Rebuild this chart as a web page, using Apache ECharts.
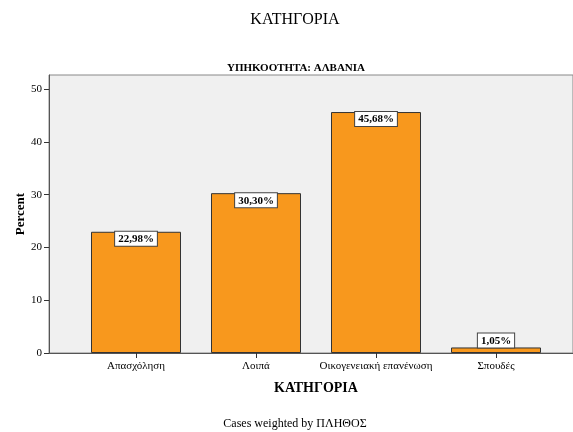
<!DOCTYPE html>
<html>
<head>
<meta charset="utf-8">
<script src="https://cdn.jsdelivr.net/npm/echarts@6/dist/echarts.min.js"></script>
<style>
  html, body { margin: 0; padding: 0; background: #fff; }
  #chart { width: 573px; height: 432px; }
</style>
</head>
<body>
<div id="chart"></div>
<script>
// data
var categories = ['Απασχόληση', 'Λοιπά', 'Οικογενειακή επανένωση', 'Σπουδές'];
var percents = [22.98, 30.30, 45.68, 1.05];
var yTicks = [0, 10, 20, 30, 40, 50];

var serif = '"Liberation Serif", "DejaVu Serif", serif';
var chart = echarts.init(document.getElementById('chart'));

// bars too short to hold the label get it on top instead
var barData = percents.map(function (v) {
  return v < 3 ? { value: v, label: { position: 'top', distance: 0 } } : v;
});

var option = {
  backgroundColor: '#fff',
  animation: false,
  title: [
    {
      text: 'ΚΑΤΗΓΟΡΙΑ',
      left: 290, top: 7, textAlign: 'center',
      textStyle: { fontFamily: serif, fontSize: 16, fontWeight: 'normal', color: '#000' }
    },
    {
      text: 'ΥΠΗΚΟΟΤΗΤΑ: ΑΛΒΑΝΙΑ',
      left: 291, top: 58, textAlign: 'center',
      textStyle: { fontFamily: serif, fontSize: 11, fontWeight: 'bold', color: '#000' }
    },
    {
      text: 'Cases weighted by ΠΛΗΘΟΣ',
      left: 290, top: 413, textAlign: 'center',
      textStyle: { fontFamily: serif, fontSize: 12, fontWeight: 'normal', color: '#000' }
    }
  ],
  grid: [
    // frame + y axis
    { left: 49, right: -3, top: 75, bottom: 79, show: true,
      backgroundColor: '#f0f0f0', borderColor: '#888', borderWidth: 1 },
    // bars
    { left: 76, right: 17, top: 75, bottom: 79 }
  ],
  xAxis: [
    {
      gridIndex: 0, type: 'value', min: 0, max: 1,
      axisLine: { show: true, lineStyle: { color: '#555', width: 1 } },
      axisTick: { show: false }, axisLabel: { show: false }, splitLine: { show: false }
    },
    {
      gridIndex: 1, type: 'category', data: categories,
      name: 'ΚΑΤΗΓΟΡΙΑ', nameLocation: 'middle', nameGap: 28,
      nameTextStyle: { fontFamily: serif, fontSize: 14, fontWeight: 'bold', color: '#000' },
      axisLine: { show: true, lineStyle: { color: '#555', width: 1 } },
      axisTick: { show: true, alignWithLabel: true, length: 5, lineStyle: { color: '#333' } },
      axisLabel: { fontFamily: serif, fontSize: 11, color: '#000', margin: 8, interval: 0 }
    }
  ],
  yAxis: [
    {
      gridIndex: 0, type: 'value', min: 0, max: 52.7,
      name: 'Percent', nameLocation: 'middle', nameGap: 22, nameMoveOverlap: false,
      nameTextStyle: { fontFamily: serif, fontSize: 13, fontWeight: 'bold', color: '#000' },
      axisLine: { show: true, lineStyle: { color: '#555', width: 1 } },
      axisTick: { show: true, length: 5, customValues: yTicks, lineStyle: { color: '#333' } },
      axisLabel: { fontFamily: serif, fontSize: 11, color: '#000', margin: 7, customValues: yTicks },
      splitLine: { show: false }
    },
    {
      gridIndex: 1, type: 'value', min: 0, max: 52.7, show: false
    }
  ],
  series: [
    {
      type: 'bar',
      xAxisIndex: 1, yAxisIndex: 1,
      data: barData,
      barWidth: '75%',
      itemStyle: { color: '#F8981D', borderColor: '#333', borderWidth: 1 },
      label: {
        show: true, position: 'insideTop', distance: 0,
        formatter: function (p) { return p.value.toFixed(2).replace('.', ',') + '%'; },
        fontFamily: serif, fontSize: 11, fontWeight: 'bold', color: '#000',
        backgroundColor: '#fff', borderColor: '#444', borderWidth: 1,
        padding: [2, 3, 1, 3]
      }
    }
  ]
};

chart.setOption(option);
</script>
</body>
</html>
